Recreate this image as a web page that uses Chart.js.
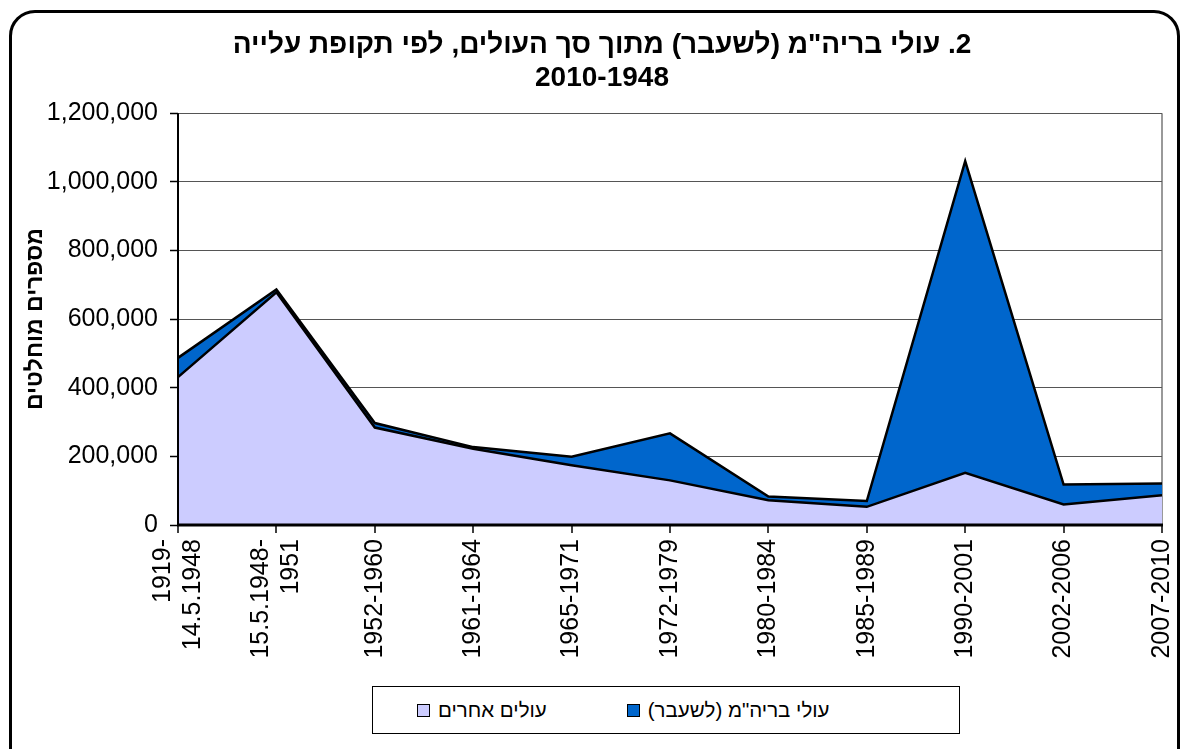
<!DOCTYPE html>
<html>
<head>
<meta charset="utf-8">
<script src="https://cdn.jsdelivr.net/npm/chart.js@4.4.1/dist/chart.umd.min.js"></script>
<style>
  html, body { margin: 0; padding: 0; background: #fff; overflow: hidden; }
  #wrap { position: relative; width: 1186px; height: 749px; }
  #frame {
    position: absolute; left: 9px; top: 10px; width: 1171px; height: 800px;
    border: 3.5px solid #000; border-radius: 26px; box-sizing: border-box;
  }
  canvas { position: absolute; left: 0; top: 0; }
  #legend {
    position: absolute; left: 372px; top: 686px; width: 588px; height: 48px;
    border: 1.5px solid #000; box-sizing: border-box; background: #fff;
    display: flex; align-items: center; padding-left: 44px; gap: 80px;
    font-family: "Liberation Sans", Arial, sans-serif; font-size: 20.5px; color: #000;
  }
  .item { display: flex; align-items: center; }
  .swatch { width: 11px; height: 11px; border: 1.5px solid #000; margin-right: 8px; }
</style>
</head>
<body>
<div id="wrap">
  <div id="frame"></div>
  <canvas id="chart" width="1186" height="749"></canvas>
  <div id="legend"></div>
</div>
<script>
// periods of immigration (x axis)
const periods = [
  ['1919-', '14.5.1948'],
  ['15.5.1948-', '1951'],
  '1952-1960', '1961-1964', '1965-1971', '1972-1979',
  '1980-1984', '1985-1989', '1990-2001', '2002-2006', '2007-2010'
];

// other immigrants (bottom area)
const otherImmigrants = [431000, 678000, 284000, 222000, 174000, 130000, 72000, 53000, 152000, 60000, 87000];
// immigrants from the former USSR (stacked on top)
const ussrImmigrants = [56000, 8000, 13000, 5000, 25000, 137000, 11000, 17000, 908000, 58000, 34000];

const yTicks = [0, 200000, 400000, 600000, 800000, 1000000, 1200000];

const FONT = '"Liberation Sans", Arial, sans-serif';
const TICK_SIZE = 25;

// redraw the axis lines on top of the filled areas
const axisLines = {
  id: 'axisLines',
  afterDatasetsDraw(chart) {
    const { ctx, chartArea } = chart;
    ctx.save();
    ctx.strokeStyle = '#000';
    ctx.lineWidth = 3;
    ctx.beginPath();
    ctx.moveTo(chartArea.left - 1, chartArea.bottom);
    ctx.lineTo(chartArea.right + 1, chartArea.bottom);
    ctx.stroke();
    ctx.lineWidth = 2;
    ctx.beginPath();
    ctx.moveTo(chartArea.left, chartArea.top);
    ctx.lineTo(chartArea.left, chartArea.bottom);
    ctx.stroke();
    ctx.restore();
  }
};

// center two-line period labels on their tick, nudge the title a bit right
const layoutTweaks = {
  id: 'layoutTweaks',
  afterLayout(chart) {
    if (chart.titleBlock) {
      chart.titleBlock.left += 12;
      chart.titleBlock.right += 12;
    }
  },
  beforeDraw(chart) {
    const xs = chart.scales.x;
    const items = xs.getLabelItems(chart.chartArea);
    const lh = xs._resolveTickFontOptions(0).lineHeight;
    items.forEach((it) => {
      if (Array.isArray(it.label) && !it._shifted) {
        it.options.translation[0] -= lh * (it.label.length - 1) / 2;
        it._shifted = true;
      }
    });
  }
};

const chart = new Chart(document.getElementById('chart'), {
  type: 'line',
  data: {
    labels: periods,
    datasets: [
      {
        label: 'עולים אחרים',
        data: otherImmigrants,
        backgroundColor: '#CCCCFF',
        borderColor: '#000',
        borderWidth: 2.5,
        fill: 'origin',
        pointRadius: 0,
        tension: 0
      },
      {
        label: 'עולי בריה"מ (לשעבר)',
        data: ussrImmigrants,
        backgroundColor: '#0066CC',
        borderColor: '#000',
        borderWidth: 2.5,
        fill: '-1',
        pointRadius: 0,
        tension: 0
      }
    ]
  },
  options: {
    responsive: false,
    animation: false,
    layout: { padding: { left: 18, right: 24, top: 0, bottom: 74 } },
    plugins: {
      legend: { display: false },
      tooltip: { enabled: false },
      title: {
        display: true,
        text: ['\u202B2. עולי בריה"מ (לשעבר) מתוך סך העולים, לפי תקופת עלייה\u202C', '2010-1948'],
        color: '#000',
        font: { family: FONT, size: 28, weight: 'bold', lineHeight: 1.2 },
        padding: { top: 28, bottom: 18 }
      }
    },
    scales: {
      x: {
        grid: {
          color: (c) => c.index === periods.length - 1 ? '#999' : 'rgba(0,0,0,0)',
          lineWidth: 2,
          tickColor: '#000',
          tickLength: 8,
          tickWidth: 1.5
        },
        border: { display: false },
        ticks: {
          color: '#000',
          font: { family: FONT, size: TICK_SIZE },
          minRotation: 90,
          maxRotation: 90,
          padding: 6,
          autoSkip: false
        },
        afterFit: (scale) => {
          scale.height = 150;
          scale.paddingLeft = 0;
          scale.paddingRight = 0;
        }
      },
      y: {
        stacked: true,
        min: 0,
        max: 1200000,
        afterBuildTicks: (scale) => { scale.ticks = yTicks.map(v => ({ value: v })); },
        grid: {
          color: '#555',
          lineWidth: 1,
          tickColor: '#000',
          tickLength: 8,
          tickWidth: 1.5
        },
        border: { display: false },
        ticks: {
          color: '#000',
          font: { family: FONT, size: TICK_SIZE },
          padding: 12,
          callback: (v) => v.toLocaleString('en-US')
        },
        title: {
          display: true,
          text: 'מספרים מוחלטים',
          color: '#000',
          font: { family: FONT, size: 23, weight: 'bold' },
          padding: { top: 4, bottom: 4 }
        },
        afterFit: (scale) => { scale.width = 160; }
      }
    }
  },
  plugins: [axisLines, layoutTweaks]
});

// legend built from the chart's datasets
const legend = document.getElementById('legend');
chart.data.datasets.forEach(ds => {
  const item = document.createElement('div');
  item.className = 'item';
  item.innerHTML = `<span class="swatch" style="background:${ds.backgroundColor}"></span><span dir="rtl">${ds.label}</span>`;
  legend.appendChild(item);
});
</script>
</body>
</html>
